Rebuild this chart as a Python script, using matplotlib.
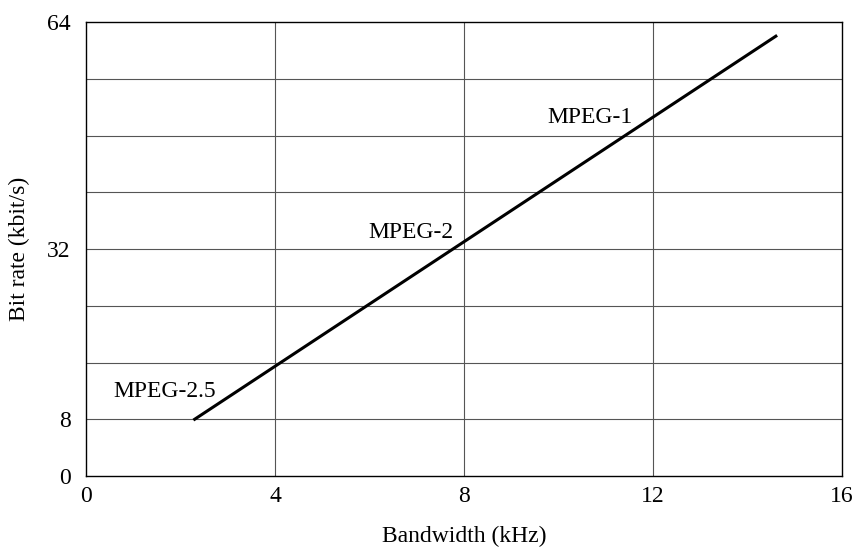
import matplotlib
matplotlib.use('Agg')
import matplotlib.pyplot as plt

bandwidth = [2.3, 14.6]
bitrate = [8, 62]
labels = ['MPEG-2.5', 'MPEG-2', 'MPEG-1']
label_x = [0.57, 5.97, 9.76]
label_y = [11.1, 33.5, 49.8]
xticks = [0, 4, 8, 12, 16]
yticks = [0, 8, 32, 64]
ygrid = [8, 16, 24, 32, 40, 48, 56]

plt.rcParams['font.family'] = ['Liberation Serif', 'DejaVu Serif']

fig = plt.figure(figsize=(8.56, 5.47), dpi=100)
ax = fig.add_axes([86/856, 1 - 476/547, (842-86)/856, (476-22)/547])

for xv in xticks[1:-1]:
    ax.axvline(xv, color='#555555', linewidth=0.8, zorder=1)
for yv in ygrid:
    ax.axhline(yv, color='#555555', linewidth=0.8, zorder=1)

ax.plot(bandwidth, bitrate, color='black', linewidth=2.2, zorder=3)

for t, lx, ly in zip(labels, label_x, label_y):
    ax.text(lx, ly, t, fontsize=17, ha='left', va='baseline')

ax.set_xlim(0, 16)
ax.set_ylim(0, 64)
ax.set_xticks(xticks)
ax.set_yticks(yticks)
ax.tick_params(axis='x', length=0, labelsize=17, pad=7.5)
ax.tick_params(axis='y', length=0, labelsize=17, pad=11)
for s in ax.spines.values():
    s.set_linewidth(1.0)
ax.set_xlabel('Bandwidth (kHz)', fontsize=17, labelpad=13)
ax.set_ylabel('Bit rate (kbit/s)', fontsize=17, labelpad=12)

fig.savefig('out.png', dpi=100)
